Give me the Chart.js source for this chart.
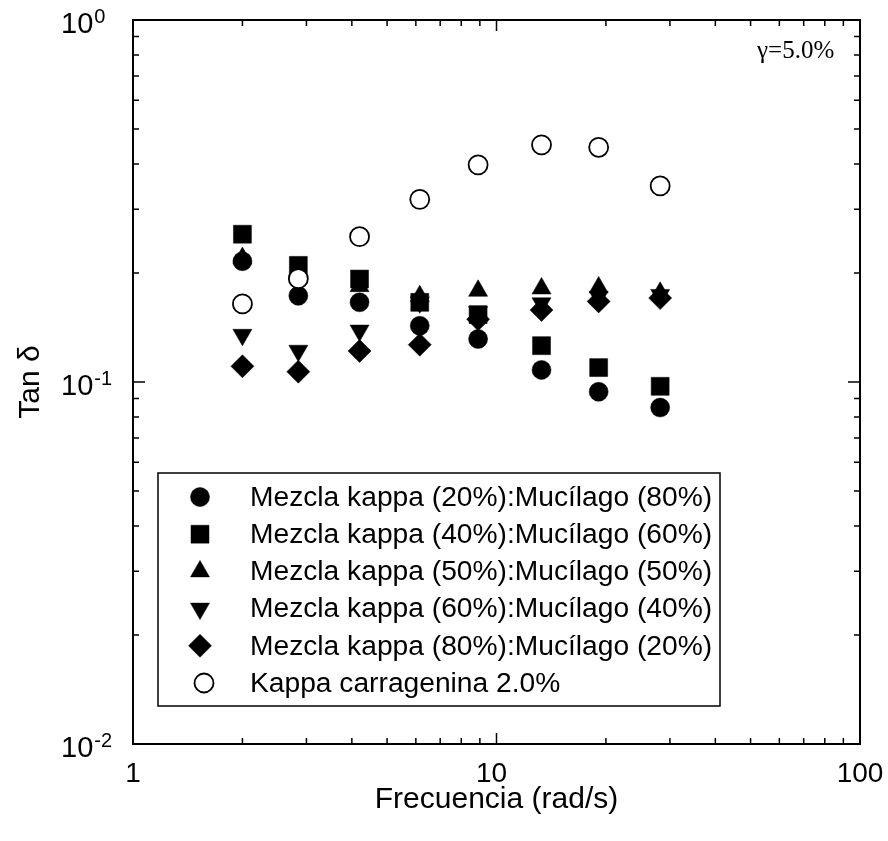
<!DOCTYPE html>
<html>
<head>
<meta charset="utf-8">
<script src="https://cdn.jsdelivr.net/npm/chart.js@4.4.0/dist/chart.umd.min.js"></script>
<style>
html,body{margin:0;padding:0;background:#fff;}
#wrap{width:888px;height:841px;position:relative;}
canvas{display:block;}
</style>
</head>
<body>
<div id="wrap"><canvas id="c" width="888" height="841"></canvas></div>
<script>
// ---- data ----
const frequencies = [2.0, 2.85, 4.2, 6.15, 8.9, 13.3, 19.1, 28.2];
const kappa20 = [0.2155, 0.173, 0.166, 0.143, 0.1315, 0.108, 0.094, 0.085];
const kappa40 = [0.256, 0.210, 0.1925, 0.166, 0.1535, 0.126, 0.1096, 0.0973];
const kappa50 = [0.220, 0.203, 0.184, 0.1726, 0.1786, 0.1813, 0.1825, 0.1764];
const kappa60 = [0.135, 0.122, 0.1387, 0.166, 0.156, 0.165, 0.172, 0.174];
const kappa80 = [0.1105, 0.1068, 0.1218, 0.1268, 0.149, 0.158, 0.167, 0.1706];
const kappaCarr = [0.1643, 0.193, 0.252, 0.3196, 0.398, 0.452, 0.445, 0.348];

const seriesLabels = [
  'Mezcla kappa (20%):Mucílago (80%)',
  'Mezcla kappa (40%):Mucílago (60%)',
  'Mezcla kappa (50%):Mucílago (50%)',
  'Mezcla kappa (60%):Mucílago (40%)',
  'Mezcla kappa (80%):Mucílago (20%)',
  'Kappa carragenina 2.0%'
];
const xTickValues = [1, 10, 100];
const xTickLabels = ['1', '10', '100'];
const yTickValues = [1, 0.1, 0.01];
const yTickBase = ['10', '10', '10'];
const yTickExp = ['0', '-1', '-2'];
const xTitle = 'Frecuencia (rad/s)';
const yTitle = 'Tan δ';
const annotation = 'γ=5.0%';

function pts(ys){ return frequencies.map((f,i)=>({x:f, y:ys[i]})); }

const styles = [
  {style:'circle', r:9.5, rot:0, fill:'#000', order:1},
  {style:'rect', r:12.7, rot:0, fill:'#000', order:2},
  {style:'triangle', r:11, rot:0, fill:'#000', order:3},
  {style:'triangle', r:11, rot:180, fill:'#000', order:5},
  {style:'rectRot', r:11.5, rot:0, fill:'#000', order:4},
  {style:'circle', r:9.5, rot:0, fill:'#fff', order:0}
];
const seriesData = [kappa20, kappa40, kappa50, kappa60, kappa80, kappaCarr];

const datasets = seriesData.map((d,i)=>({
  label: seriesLabels[i],
  data: pts(d),
  showLine: false,
  pointStyle: styles[i].style,
  pointRadius: styles[i].r,
  pointRotation: styles[i].rot,
  pointBackgroundColor: styles[i].fill,
  pointBorderColor: '#000',
  pointBorderWidth: i === 5 ? 1.8 : 0.5,
  order: styles[i].order
}));

function drawMarker(ctx, s, x, y){
  ctx.save();
  ctx.fillStyle = s.fill; ctx.strokeStyle = '#000';
  ctx.lineWidth = s.fill === '#fff' ? 1.8 : 0.5;
  if (Chart.helpers && Chart.helpers.drawPoint) {
    Chart.helpers.drawPoint(ctx, {pointStyle:s.style, rotation:s.rot, radius:s.r, borderWidth:ctx.lineWidth}, x, y);
  }
  ctx.restore();
}

const framePlugin = {
  id: 'frame',
  afterDraw(chart){
    const ctx = chart.ctx;
    const xs = chart.scales.x, ys = chart.scales.y;
    const a = chart.chartArea;
    ctx.save();
    ctx.strokeStyle = '#000';
    ctx.lineWidth = 2;
    ctx.strokeRect(a.left, a.top, a.right - a.left, a.bottom - a.top);
    ctx.lineWidth = 1.5;
    // x ticks (bottom & top, inward)
    for (let d = 1; d < 100; d *= 10) {
      for (let m = 1; m <= 9; m++) {
        const v = d * m;
        const px = xs.getPixelForValue(v);
        const len = m === 1 ? 11 : 6;
        ctx.beginPath();
        ctx.moveTo(px, a.bottom); ctx.lineTo(px, a.bottom - len);
        ctx.moveTo(px, a.top); ctx.lineTo(px, a.top + len);
        ctx.stroke();
      }
    }
    // y ticks (left & right, inward)
    for (let d = 0.01; d < 0.99; d *= 10) {
      for (let m = 1; m <= 9; m++) {
        const v = d * m;
        const py = ys.getPixelForValue(v);
        const len = m === 1 ? 12 : 6;
        ctx.beginPath();
        ctx.moveTo(a.left, py); ctx.lineTo(a.left + len, py);
        ctx.moveTo(a.right, py); ctx.lineTo(a.right - len, py);
        ctx.stroke();
      }
    }
    ctx.fillStyle = '#000';
    // x tick labels
    ctx.font = '28px "Liberation Sans", Arial, sans-serif';
    ctx.textAlign = 'center';
    ctx.textBaseline = 'middle';
    xTickValues.forEach((v,i)=>{
      const off = i === 1 ? -5 : 0;
      ctx.fillText(xTickLabels[i], xs.getPixelForValue(v) + off, a.bottom + 30);
    });
    // y tick labels with superscripts
    yTickValues.forEach((v,i)=>{
      const py = ys.getPixelForValue(v);
      ctx.textAlign = 'left';
      ctx.textBaseline = 'alphabetic';
      ctx.font = '29px "Liberation Sans", Arial, sans-serif';
      const bx = 61;
      ctx.fillText(yTickBase[i], bx, py + 12.5);
      const w = ctx.measureText(yTickBase[i]).width;
      ctx.font = '20px "Liberation Sans", Arial, sans-serif';
      ctx.fillText(yTickExp[i], bx + w + 1, py + 3);
    });
    // axis titles
    ctx.font = '30px "Liberation Sans", Arial, sans-serif';
    ctx.textAlign = 'center';
    ctx.textBaseline = 'middle';
    ctx.fillText(xTitle, (a.left + a.right) / 2, 800);
    ctx.save();
    ctx.translate(31, (a.top + a.bottom) / 2);
    ctx.rotate(-Math.PI / 2);
    ctx.fillText(yTitle, 0, 0);
    ctx.restore();
    // annotation
    ctx.font = '25px "Liberation Serif", "Times New Roman", serif';
    ctx.textAlign = 'left';
    ctx.textBaseline = 'alphabetic';
    ctx.fillText(annotation, 757, 58);
    // legend
    ctx.lineWidth = 1.5;
    ctx.strokeRect(158, 473, 562, 233);
    ctx.font = '28.2px "Liberation Sans", Arial, sans-serif';
    ctx.textBaseline = 'middle';
    seriesLabels.forEach((lab,i)=>{
      const y = 497 + i * 37.2;
      drawMarker(ctx, styles[i], i === 5 ? 204 : 200, y);
      ctx.fillStyle = '#000';
      ctx.textAlign = 'left';
      ctx.fillText(lab, 250, y + 1);
    });
    ctx.restore();
  }
};

new Chart(document.getElementById('c'), {
  type: 'scatter',
  data: { datasets },
  options: {
    responsive: false,
    animation: false,
    devicePixelRatio: 1,
    layout: { padding: { left: 133, right: 28, top: 20, bottom: 97 } },
    scales: {
      x: { type: 'logarithmic', min: 1, max: 100, display: false },
      y: { type: 'logarithmic', min: 0.01, max: 1, display: false }
    },
    plugins: { legend: { display: false }, tooltip: { enabled: false } }
  },
  plugins: [framePlugin]
});
</script>
</body>
</html>
